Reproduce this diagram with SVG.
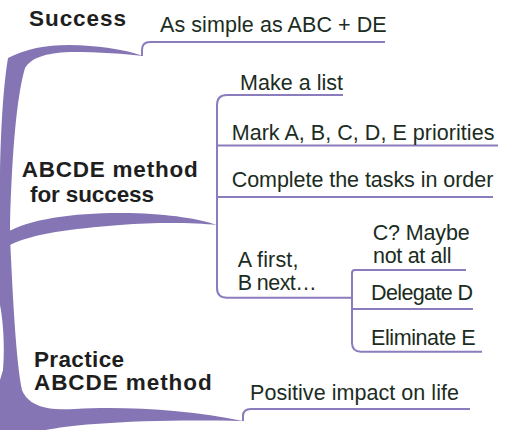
<svg xmlns="http://www.w3.org/2000/svg" width="508" height="430" viewBox="0 0 508 430">
  <defs>
    <style>
      .branch { fill: #8575b5; stroke: none; }
      .link { fill: none; stroke: #8a7cbd; stroke-width: 2; stroke-linejoin: round; stroke-linecap: butt; }
      .topic { font-family: "Liberation Sans", Arial, sans-serif; font-weight: bold; font-size: 22.5px; fill: #1e1e1e; }
      .sub { font-family: "Liberation Sans", Arial, sans-serif; font-size: 21.5px; fill: #1b2c22; }
    </style>
  </defs>
  <rect width="508" height="430" fill="#ffffff"/>

  <!-- tapered main branches growing out of the left edge -->
  <g id="branches">
    <path class="branch" d="M 0,250 L 0,175 C 1,120 4,82 8,58 C 30,46 60,43 90,46 C 115,48 132,52 143,56 C 125,54 100,52 70,52 C 45,53 31,58 25,68 C 17,95 12,150 10,225 L 10,250 Z"/>
    <path class="branch" d="M 4,236 C 8,233 12,232 6,233 C 30,218 80,212 130,213 C 170,214 200,219 217,225 C 195,223 160,222 120,225 C 70,229 35,233 10,245 Z"/>
    <path class="branch" d="M 0,232 L 10,238 C 13,300 16,360 22,390 C 28,405 45,411 75,409 C 125,406 190,410 243,421 C 200,420 140,420 95,424 C 65,426 45,430 35,432 L 0,432 L 0,380 L 3,370 C 5,345 3,320 0,305 Z"/>
  </g>

  <!-- thin connectors under the sub-topics -->
  <g id="connectors">
    <path class="link" d="M 142,56 L 142,50 Q 142,42 150,42 L 385,42"/>
    <path class="link" d="M 343,95 L 227,95 Q 217,95 217,105 L 217,288 Q 217,297.7 227,297.7 L 352,297.7"/>
    <path class="link" d="M 217,145.5 L 498,145.5"/>
    <path class="link" d="M 217,197 L 493,197"/>
    <path class="link" d="M 466,270 L 355,270 Q 352,270 352,273 L 352,343 Q 352,351.7 361,351.7 L 482,351.7"/>
    <path class="link" d="M 352,309 L 473,309"/>
    <path class="link" d="M 243,421 L 243,416 Q 243,409 251,409 L 470,409"/>
  </g>

  <g id="success">
    <text class="topic" x="29" y="26" textLength="97" lengthAdjust="spacing">Success</text>
  </g>
  <g id="simple">
    <text class="sub" x="160" y="31.7" textLength="226.7" lengthAdjust="spacing">As simple as ABC + DE</text>
  </g>

  <g id="abcde-method">
    <text class="topic" x="21.7" y="176.7" textLength="176" lengthAdjust="spacing">ABCDE method</text>
    <text class="topic" x="30" y="201.7" textLength="124" lengthAdjust="spacing">for success</text>
  </g>
  <g id="make-list">
    <text class="sub" x="240" y="90" textLength="103" lengthAdjust="spacing">Make a list</text>
  </g>
  <g id="mark-priorities">
    <text class="sub" x="231.7" y="140" textLength="262.7" lengthAdjust="spacing">Mark A, B, C, D, E priorities</text>
  </g>
  <g id="complete-tasks">
    <text class="sub" x="231.7" y="187" textLength="261.6" lengthAdjust="spacing">Complete the tasks in order</text>
  </g>
  <g id="a-first">
    <text class="sub" x="237.7" y="266.7" textLength="60.7" lengthAdjust="spacing">A first,</text>
    <text class="sub" x="237.7" y="290" textLength="79" lengthAdjust="spacing">B next…</text>
  </g>
  <g id="maybe-c">
    <text class="sub" x="372.7" y="240" textLength="97" lengthAdjust="spacing">C? Maybe</text>
    <text class="sub" x="373" y="262.7" textLength="78.5" lengthAdjust="spacing">not at all</text>
  </g>
  <g id="delegate-d">
    <text class="sub" x="371" y="300" textLength="102" lengthAdjust="spacing">Delegate D</text>
  </g>
  <g id="eliminate-e">
    <text class="sub" x="371" y="345" textLength="104.7" lengthAdjust="spacing">Eliminate E</text>
  </g>

  <g id="practice">
    <text class="topic" x="34" y="366.7" textLength="90" lengthAdjust="spacing">Practice</text>
    <text class="topic" x="34" y="390" textLength="177.7" lengthAdjust="spacing">ABCDE method</text>
  </g>
  <g id="positive-impact">
    <text class="sub" x="250" y="400" textLength="209" lengthAdjust="spacing">Positive impact on life</text>
  </g>
</svg>
